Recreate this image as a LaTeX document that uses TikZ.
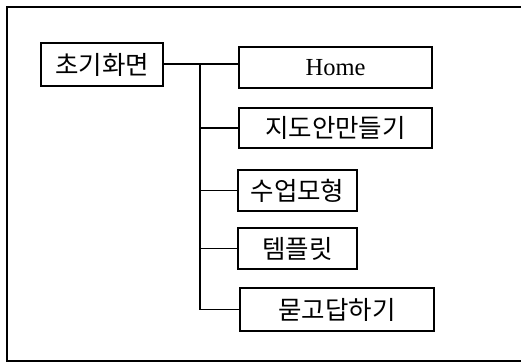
\documentclass[tikz,border=0pt]{standalone}
\usepackage{fontspec}
\setmainfont{Liberation Serif}
\newfontfamily\kr{Noto Sans CJK KR}
\begin{document}
\begin{tikzpicture}[x=1pt,y=-1pt,
  box/.style={draw, line width=1.1pt, rectangle, inner sep=0pt, anchor=center},
  kt/.style={font=\kr\fontsize{25.5}{27}\selectfont},
  et/.style={font=\fontsize{24.5}{26}\selectfont},
  conn/.style={line width=1.1pt}]
\useasboundingbox (0,0) rectangle (521,363);
\draw[line width=1.3pt] (523,7) -- (7,7) -- (7,361) -- (523,361);
\node[box,kt,minimum width=122pt,minimum height=43pt] (init) at (102,64.5) {초기화면};
\node[box,et,minimum width=193pt,minimum height=41pt] (home) at (335.5,67.5) {Home};
\node[box,kt,minimum width=193pt,minimum height=40pt] (jido) at (335.5,128) {지도안만들기};
\node[box,kt,minimum width=119pt,minimum height=41pt] (suup) at (297.5,190.5) {수업모형};
\node[box,kt,minimum width=119pt,minimum height=41pt] (temp) at (297.5,248.5) {템플릿};
\node[box,kt,minimum width=194pt,minimum height=43pt] (mut) at (337,309.5) {묻고답하기};
\coordinate (trunk) at (200,64);
\draw[conn] (init.east |- trunk) -- (trunk) -- (trunk -| home.west);
\draw[conn] (trunk) -- (trunk |- mut.west);
\draw[conn] (trunk |- jido.west) -- (jido.west);
\draw[conn] (trunk |- suup.west) -- (suup.west);
\draw[conn] (trunk |- temp.west) -- (temp.west);
\draw[conn] (trunk |- mut.west) -- (mut.west);
\end{tikzpicture}
\end{document}
